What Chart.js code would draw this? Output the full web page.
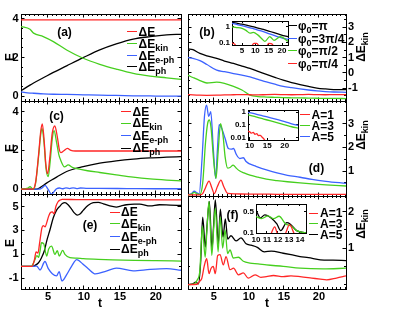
<!DOCTYPE html>
<html>
<head>
<meta charset="utf-8">
<title>Energy relaxation panels</title>
<script src="https://cdn.jsdelivr.net/npm/chart.js"></script>
<style>
  html, body { margin: 0; padding: 0; background: #fff; }
  #stage { position: relative; width: 415px; height: 312px; overflow: hidden;
           font-family: 'Liberation Sans', Arial, sans-serif; font-weight: bold; color: #000; }
  #stage canvas, #stage .lbl, #stage .sw { position: absolute; }
  .lbl { white-space: nowrap; line-height: 12px; font-size: 12px; }
  .lbl sub { font-size: 9px; line-height: 0; vertical-align: baseline; position: relative; top: 3px; }
  .sw { height: 0; border-top: 1.5px solid; }
</style>
</head>
<body>
<div id="stage"></div>
<script>
// ---- data ----
// (a)
const tA = [1.25, 2.5, 3, 4.35, 5.75, 7.6, 9.9, 12.2, 14.5, 16.85, 19.2, 21.5, 23.5];
const aDE  = [3.95, 3.95, 3.95, 3.95, 3.95, 3.95, 3.95, 3.95, 3.95, 3.95, 3.95, 3.95, 3.95];
const aKin = [3.6, 3.46, 3.26, 3.08, 2.82, 2.39, 1.96, 1.65, 1.4, 1.18, 1.04, 0.95, 0.87];
const aEph = [0.22, 0.16, 0.15, 0.12, 0.1, 0.09, 0.07, 0.05, 0.04, 0.02, 0.01, 0.0, 0.0];
const aPh  = [0.28, 0.57, 0.68, 0.95, 1.23, 1.57, 1.99, 2.39, 2.7, 2.95, 3.08, 3.17, 3.2];

// (b)
const tB = [1.3, 2, 3, 4, 5.4, 6.5, 7.8, 9, 10.15, 11.3, 12.5, 13.7, 14.9, 16.1, 17.3, 18.5, 19.7, 20.9, 22.1, 23.86];
const bPi   = [1.58, 1.52, 1.28, 1.12, 0.95, 0.78, 0.62, 0.45, 0.29, 0.1, -0.09, -0.29, -0.48, -0.63, -0.76, -0.88, -0.99, -1.05, -1.09, -1.1];
const b3Pi4 = [1.01, 0.95, 0.8, 0.55, 0.18, 0.08, -0.04, -0.15, -0.26, -0.42, -0.59, -0.74, -0.88, -0.97, -1.05, -1.12, -1.18, -1.22, -1.25, -1.27];
const bPi2  = [-0.15, -0.3, -0.5, -0.66, -0.6, -0.68, -0.88, -1.12, -1.45, -1.55, -1.58, -1.6, -1.62, -1.63, -1.64, -1.65, -1.66, -1.67, -1.67, -1.68];
const bPi4  = [-1.42, -1.44, -1.46, -1.47, -1.46, -1.44, -1.43, -1.42, -1.43, -1.44, -1.42, -1.41, -1.42, -1.43, -1.42, -1.41, -1.42, -1.43, -1.42, -1.42];
// (b) inset, log scale
const tBi   = [1.3, 3, 5, 7, 9, 11, 13, 15, 17, 19, 21, 22.25];
const biPi   = [2.0, 1.75, 1.5, 1.25, 1.05, 0.85, 0.7, 0.55, 0.43, 0.34, 0.27, 0.24];
const bi3Pi4 = [1.7, 1.45, 1.2, 0.98, 0.8, 0.63, 0.5, 0.38, 0.29, 0.22, 0.18, 0.16];
const tBiG  = [1.3, 3, 5, 6.5, 8, 9.2, 11, 12.5, 13.6, 15.4, 17, 19.4, 22.25];
const biPi2  = [1.0, 0.92, 0.8, 0.6, 0.4, 0.45, 0.3, 0.17, 0.12, 0.24, 0.14, 0.24, 0.12];
const tBiR  = [1.3, 2.2, 3.2, 8.2, 9.5, 10.5, 11.8, 14, 15, 16, 17.2];
const biPi4  = [0.095, 0.08, 0.05, 0.05, 0.09, 0.09, 0.05, 0.05, 0.088, 0.085, 0.05];

// (c)
const tCr = [1.25, 2.9, 3.3, 3.7, 4.0, 4.21, 4.45, 4.7, 4.95, 5.25, 5.6, 5.95, 6.3, 6.6, 6.8, 7.2, 7.7, 8.2, 8.8, 12, 16, 20, 23.5];
const cDE = [0, 0, 0.4, 1.8, 3.0, 3.37, 2.6, 1.3, 0.8, 1.6, 2.9, 3.26, 2.7, 2.0, 1.89, 1.98, 2.11, 2.0, 1.97, 1.97, 1.97, 1.97, 1.97];
const tCg = [1.25, 2.2, 2.5, 2.8, 3.0, 3.3, 3.7, 4.0, 4.17, 4.45, 4.75, 5.04, 5.3, 5.6, 5.85, 6.2, 6.5, 6.76, 7.3, 7.8, 8.4, 9.0, 10.5, 12.2, 14.5, 16.85, 19.2, 21.5, 23.5];
const cKin = [0, 0.05, 0.13, 0.03, 0, 0.35, 1.7, 2.85, 3.14, 2.4, 1.0, 0.65, 1.4, 2.6, 3.02, 2.4, 1.8, 1.5, 1.15, 1.25, 1.12, 1.06, 0.95, 0.86, 0.74, 0.62, 0.53, 0.47, 0.43];
const tCb = [1.25, 3.8, 4.3, 4.6, 5.0, 5.5, 5.9, 6.2, 6.6, 7.0, 7.5, 8.0, 8.5, 9.0, 9.5, 10.5, 12, 16, 20, 23.5];
const cEph = [0, 0, 0.1, 0.2, 0.0, -0.26, -0.1, 0.02, 0.06, 0.02, 0.07, 0.03, 0.07, 0.03, 0.06, 0.04, 0.04, 0.03, 0.02, 0.02];
const tCk = [1.25, 3.4, 3.9, 4.8, 5.5, 6.2, 7.6, 9.9, 12.2, 14.5, 16.85, 19.2, 21.5, 23.5];
const cPh = [0, 0, 0.08, 0.31, 0.47, 0.62, 0.91, 1.16, 1.34, 1.46, 1.55, 1.61, 1.65, 1.68];

// (d)
const tDb = [1.3, 1.8, 2.2, 2.6, 2.9, 3.3, 3.65, 3.95, 4.25, 4.55, 4.9, 5.25, 5.5, 5.75, 6.1, 6.6, 7.06, 7.5, 7.8, 8.2, 8.7, 9.2, 9.6, 10.1, 11, 12.5, 14, 15.5, 17.3, 19, 21, 23.86];
const dA5 = [0, 0.05, 0.15, 0.08, 0.05, 1.5, 3.3, 3.78, 3.3, 3.5, 2.0, 0.69, 1.9, 2.95, 2.8, 2.37, 1.95, 1.92, 1.95, 1.7, 1.53, 1.56, 1.4, 1.3, 1.2, 1.05, 0.92, 0.82, 0.74, 0.65, 0.57, 0.48];
const tDg = [1.3, 1.8, 2.2, 2.6, 3.0, 3.4, 3.8, 4.1, 4.34, 4.6, 4.95, 5.3, 5.6, 5.95, 6.3, 6.6, 6.97, 7.3, 7.75, 8.2, 8.7, 9.3, 10.15, 11.3, 12.5, 14, 15.5, 17.3, 19, 21, 23.86];
const dA3 = [0, 0.03, 0.1, 0.04, 0.02, 0.5, 2.2, 3.0, 3.15, 2.8, 1.5, 0.69, 1.8, 3.0, 2.5, 1.6, 1.12, 1.15, 1.25, 1.12, 1.0, 0.92, 0.83, 0.74, 0.66, 0.6, 0.55, 0.5, 0.46, 0.42, 0.37];
const tDr = [1.3, 3.0, 3.4, 3.8, 4.3, 4.7, 5.06, 5.5, 6.0, 6.4, 6.97, 8, 10, 12, 14, 17, 20, 23.86];
const dA1 = [0, 0, 0.05, 0.3, 0.58, 0.3, 0.05, 0.35, 0.62, 0.35, 0.06, 0.04, 0.03, 0.03, 0.02, 0.02, 0.02, 0.02];
// (d) inset, log scale
const tDi  = [9.5, 12, 14, 16, 18, 20, 22, 23.8];
const diA5 = [0.95, 0.66, 0.48, 0.35, 0.25, 0.18, 0.12, 0.09];
const diA3 = [0.6, 0.4, 0.28, 0.2, 0.14, 0.1, 0.07, 0.055];
const tDiR = [9.5, 10, 10.5, 11, 11.5, 12, 12.5, 13, 13.5, 14, 14.5];
const diA1 = [0.032, 0.028, 0.022, 0.025, 0.018, 0.02, 0.014, 0.015, 0.011, 0.008, 0.005];

// (e)
const tEr = [1.25, 2.8, 3.1, 3.35, 3.6, 3.85, 4.15, 4.35, 4.6, 4.85, 5.1, 5.35, 5.6, 5.85, 6.1, 6.4, 6.7, 7.0, 9, 14, 23.5];
const eDE = [0, 0, 0.5, 1.2, 1.1, 2.0, 3.2, 3.4, 3.3, 3.7, 4.2, 4.5, 4.55, 4.4, 5.0, 5.4, 5.55, 5.6, 5.58, 5.57, 5.56];
const tEg = [1.25, 2.7, 3.0, 3.2, 3.45, 3.7, 3.9, 4.1, 4.4, 4.82, 5.1, 5.5, 5.97, 6.3, 6.57, 7.04, 7.36, 8.05, 9, 9.9, 12, 14, 17, 20, 23.5];
const eKin = [0, 0, 0.3, 0.58, 0.9, 0.75, 1.3, 1.97, 1.9, 0.86, 1.45, 1.69, 1.0, 1.3, 0.86, 1.33, 1.0, 0.72, 0.68, 0.64, 0.58, 0.54, 0.5, 0.47, 0.44];
const tEb = [1.25, 2.9, 3.43, 3.9, 4.58, 5.05, 5.6, 6.2, 6.55, 6.95, 7.6, 8.3, 9.0, 9.9, 10.6, 11.6, 13.1, 14.5, 16.85, 19.2, 21.5, 23.5];
const eEph = [0, 0, 0.02, -0.31, 0.4, -0.2, -0.62, -0.8, -0.45, -1.23, -0.7, 0.02, 0.55, 0.16, -0.2, -0.64, -0.4, -0.15, -0.38, -0.26, -0.2, -0.33];
const tEk = [1.25, 2.9, 3.43, 3.8, 4.1, 4.5, 4.82, 5.3, 5.74, 6.2, 6.67, 7.0, 7.36, 7.8, 8.3, 8.7, 9.07, 9.5, 9.9, 10.6, 11.3, 12, 12.7, 13.6, 14.5, 15.2, 15.9, 17, 17.75, 19.2, 20.5, 22, 23.5];
const ePh = [0, 0, 0.16, 0.4, 0.72, 1.3, 2.11, 3.1, 4.06, 4.7, 5.04, 5.25, 5.32, 5.15, 4.77, 4.45, 4.29, 4.4, 4.68, 5.1, 5.32, 5.35, 5.23, 5.05, 4.96, 5.05, 5.15, 5.2, 5.2, 5.05, 5.15, 5.12, 5.1];

// (f)
const tFk = [1.3, 2.0, 2.4, 2.8, 3.1, 3.4, 3.77, 4.05, 4.34, 4.73, 4.95, 5.2, 5.63, 5.92, 6.3, 6.63, 6.97, 7.44, 8.16, 8.87, 9.6, 10.3, 11.2, 12.2, 13.2, 14.9, 16, 17.3, 18.5, 20.2, 22, 23.86];
const fA5 = [0, 0.02, 0.07, 0.02, 0.6, 1.85, 1.03, 1.7, 2.28, 0.98, 1.6, 2.32, 1.12, 2.07, 1.3, 1.8, 1.25, 1.34, 1.2, 1.28, 1.12, 1.08, 1.02, 0.9, 0.92, 0.86, 0.82, 0.77, 0.74, 0.68, 0.67, 0.66];
const tFg = [1.3, 2.2, 2.6, 3.0, 3.35, 3.75, 4.0, 4.3, 4.7, 4.95, 5.2, 5.6, 5.9, 6.25, 6.6, 6.95, 7.3, 7.77, 8.5, 9.2, 10.15, 11.3, 12.5, 14.9, 17.3, 20.6, 23.86];
const fA3 = [0, 0.02, 0.12, 0.4, 1.6, 0.75, 1.5, 2.28, 0.8, 1.5, 2.1, 0.9, 1.85, 1.0, 1.5, 0.85, 0.95, 0.73, 0.75, 0.64, 0.59, 0.57, 0.54, 0.5, 0.45, 0.43, 0.45];
const tFr = [1.3, 2.6, 3.0, 3.25, 3.63, 3.97, 4.3, 4.6, 4.9, 5.2, 5.54, 5.87, 6.35, 6.73, 7.3, 7.8, 8.5, 9.2, 9.9, 10.87, 11.7, 12.5, 13.5, 14.9, 16, 17.3, 18.97, 20.2, 21.1, 22.5, 23.86];
const fA1 = [0, 0.01, 0.1, 0.16, 0.52, 0.71, 0.3, 0.45, 0.5, 0.3, 0.8, 0.82, 0.54, 0.77, 0.41, 0.45, 0.27, 0.32, 0.18, 0.27, 0.2, 0.22, 0.25, 0.22, 0.24, 0.22, 0.18, 0.15, 0.13, 0.18, 0.24];
// (f) inset, log scale
const tFiK = [10, 10.4, 10.8, 11.4, 11.9, 12.25, 12.8, 13.1, 13.7, 14.55];
const fiA5 = [0.58, 0.32, 0.4, 0.31, 0.2, 0.12, 0.22, 0.2, 0.12, 0.1];
const tFiG = [10, 10.5, 11.1, 11.6, 12.1, 12.7, 13.2, 13.7, 14.55];
const fiA3 = [0.35, 0.3, 0.37, 0.3, 0.36, 0.2, 0.17, 0.12, 0.1];
const tFiR = [11.35, 11.7, 12.0, 12.6, 13.05, 13.5];
const fiA1 = [0.09, 0.16, 0.09, 0.09, 0.19, 0.09];

// ---- drawing ----
const RED = '#ff2626', GREEN = '#46cf1e', BLUE = '#3c62ff', BLACK = '#000';
const FONT = "'Liberation Sans', Arial, sans-serif";
const stage = document.getElementById('stage');

function pts(ts, vs) { return ts.map((t, i) => ({x: t, y: vs[i]})); }
function line(label, ts, vs, color) {
    return {label, data: pts(ts, vs), borderColor: color, borderWidth: 1.3, pointRadius: 0,
            cubicInterpolationMode: 'monotone', xAxisID: 'x', yAxisID: 'y'};
}
function steps(min, max, step) {
    const out = [];
    for (let k = Math.ceil(min / step - 1e-9); k * step <= max + 1e-9; k++) out.push(Math.round(k * step * 1000) / 1000);
    return out;
}

// one axis, ticks pointing inwards, fixed box size
function axis(o) {
    const vertical = o.pos === 'left' || o.pos === 'right';
    return {
        type: o.type || 'linear', position: o.pos, min: o.min, max: o.max, weight: o.weight || 0,
        afterBuildTicks: s => { s.ticks = o.vals.map(v => ({value: v})); },
        afterFit: s => {
            if (vertical) s.width = o.size; else s.height = o.size;
            s.paddingTop = s.paddingBottom = s.paddingLeft = s.paddingRight = 0;
        },
        border: {display: o.border !== false, color: '#000', width: 1},
        grid: {drawOnChartArea: false, drawTicks: true, tickLength: -o.len, tickWidth: 1, tickColor: '#000'},
        ticks: {display: !!o.labels, autoSkip: false, maxRotation: 0, minRotation: 0, padding: o.pad || 0,
                color: '#000', font: {family: FONT, size: o.fs || 11, weight: 'bold'},
                callback: v => String(v)}
    };
}

const whiteBox = {
    id: 'whiteBox',
    beforeDraw(c) {
        const a = c.chartArea;
        c.ctx.save();
        c.ctx.fillStyle = '#fff';
        c.ctx.fillRect(a.left, a.top, a.right - a.left, a.bottom - a.top);
        c.ctx.restore();
    }
};

function chartAt(x, y, w, h, scales, datasets, plugins) {
    const cv = document.createElement('canvas');
    cv.width = w; cv.height = h;
    cv.style.left = x + 'px'; cv.style.top = y + 'px';
    stage.appendChild(cv);
    return new Chart(cv, {
        type: 'line',
        data: {datasets},
        options: {
            responsive: false, animation: false, devicePixelRatio: 1,
            layout: {padding: 0, autoPadding: false},
            plugins: {legend: {display: false}, tooltip: {enabled: false}},
            scales
        },
        plugins: plugins || []
    });
}

// main panel: box = [left, top, right, bottom] of the plot area
function panel(box, xr, yr, yLab, yMinor, side, showX, datasets) {
    const L = side === 'left' ? 21 : 4, R = side === 'right' ? 26 : 4, T = 4, B = showX ? 24 : 4;
    const xMaj = [5, 10, 15, 20], xMin = steps(xr[0], xr[1], 0.625), yMin = steps(yr[0], yr[1], yMinor);
    const X = pos => ({pos, min: xr[0], max: xr[1]});
    const Y = pos => ({pos, min: yr[0], max: yr[1]});
    const scales = {
        x:   axis({...X('bottom'), vals: xMaj, len: 3.5, size: B, labels: showX, pad: 5, weight: 1}),
        xm:  axis({...X('bottom'), vals: xMin, len: 2, size: 0, border: false}),
        xt:  axis({...X('top'), vals: xMaj, len: 3.5, size: T, weight: 1}),
        xmt: axis({...X('top'), vals: xMin, len: 2, size: 0, border: false}),
        y:   axis({...Y('left'), vals: yLab, len: 3.5, size: L, labels: side === 'left', pad: 6, weight: 1}),
        ym:  axis({...Y('left'), vals: yMin, len: 2, size: 0, border: false}),
        yr:  axis({...Y('right'), vals: yLab, len: 3.5, size: R, labels: side === 'right', pad: 5.5, weight: 1}),
        ymr: axis({...Y('right'), vals: yMin, len: 2, size: 0, border: false})
    };
    return chartAt(box[0] - L, box[1] - T, box[2] - box[0] + L + R, box[3] - box[1] + T + B, scales, datasets);
}

// inset with log y axis
function inset(box, xr, yr, xLab, yLab, datasets, padX) {
    const L = 18, R = 2, T = 2, B = 13;
    const X = pos => ({pos, min: xr[0], max: xr[1]});
    const Y = pos => ({pos, min: yr[0], max: yr[1], type: 'logarithmic'});
    const scales = {
        x:  axis({...X('bottom'), vals: xLab, len: 2, size: B, labels: true, pad: padX, weight: 1, fs: 8}),
        xt: axis({...X('top'), vals: xLab, len: 2, size: T, weight: 1}),
        y:  axis({...Y('left'), vals: yLab, len: 2, size: L, labels: true, pad: 4, weight: 1, fs: 8}),
        yr: axis({...Y('right'), vals: yLab, len: 2, size: R, weight: 1})
    };
    return chartAt(box[0] - L, box[1] - T, box[2] - box[0] + L + R, box[3] - box[1] + T + B, scales, datasets, [whiteBox]);
}

function label(html, x, y, style) {
    const d = document.createElement('div');
    d.className = 'lbl';
    d.innerHTML = html;
    d.style.left = x + 'px';
    d.style.top = y + 'px';
    if (style) Object.assign(d.style, style);
    stage.appendChild(d);
    return d;
}
const centered = {transform: 'translate(-50%, -50%)'};
const rotated = {transform: 'translate(-50%, -50%) rotate(-90deg)'};

function legend(x1, x2, tx, ys, items) {
    items.forEach(([html, color], i) => {
        const sw = document.createElement('div');
        sw.className = 'sw';
        sw.style.left = x1 + 'px';
        sw.style.width = (x2 - x1) + 'px';
        sw.style.top = (ys[i] - 0.75) + 'px';
        sw.style.borderColor = color;
        stage.appendChild(sw);
        label(html, tx, ys[i] - 6);
    });
}

const XL = [1.25, 23.5], XR = [1.3, 23.86];

panel([21, 14, 181, 101], XL, [-0.25, 4.25], [0, 2, 4], 0.5, 'left', false, [
    line('ΔE', tA, aDE, RED), line('ΔE_kin', tA, aKin, GREEN),
    line('ΔE_e-ph', tA, aEph, BLUE), line('ΔE_ph', tA, aPh, BLACK)]);
panel([188, 14, 346, 101], XR, [-1.84, 3.86], [-1, 0, 1, 2, 3], 0.5, 'right', false, [
    line('φ0=π/4', tB, bPi4, RED), line('φ0=π/2', tB, bPi2, GREEN),
    line('φ0=3π/4', tB, b3Pi4, BLUE), line('φ0=π', tB, bPi, BLACK)]);
panel([21, 101, 181, 194], XL, [-0.25, 4.55], [0, 2, 4], 0.5, 'left', false, [
    line('ΔE', tCr, cDE, RED), line('ΔE_kin', tCg, cKin, GREEN),
    line('ΔE_e-ph', tCb, cEph, BLUE), line('ΔE_ph', tCk, cPh, BLACK)]);
panel([188, 101, 346, 196], XR, [-0.05, 3.95], [1, 2, 3], 0.5, 'right', false, [
    line('A=1', tDr, dA1, RED), line('A=3', tDg, dA3, GREEN), line('A=5', tDb, dA5, BLUE)]);
panel([21, 194, 181, 289], XL, [-1.9, 6.05], [-1, 1, 3, 5], 1, 'left', true, [
    line('ΔE', tEr, eDE, RED), line('ΔE_kin', tEg, eKin, GREEN),
    line('ΔE_e-ph', tEb, eEph, BLUE), line('ΔE_ph', tEk, ePh, BLACK)]);
panel([188, 196, 346, 289], XR, [-0.12, 2.43], [1, 2], 0.5, 'right', true, [
    line('A=1', tFr, fA1, RED), line('A=3', tFg, fA3, GREEN), line('A=5', tFk, fA5, BLACK)]);

inset([232, 21, 288, 45], [1.25, 22.25], [0.07, 2.41], [5, 10, 15, 20], [0.1, 1], [
    line('φ0=π/4', tBiR, biPi4, RED), line('φ0=π/2', tBiG, biPi2, GREEN),
    line('φ0=3π/4', tBi, bi3Pi4, BLUE), line('φ0=π', tBi, biPi, BLACK)], 3);
inset([248, 110, 298, 140], [9.5, 23.8], [0.0064, 1.44], [10, 15, 20], [0.01, 0.1, 1], [
    line('A=1', tDiR, diA1, RED), line('A=3', tDi, diA3, GREEN), line('A=5', tDi, diA5, BLUE)], 3);
inset([256, 204, 306, 233], [10, 14.55], [0.1, 0.92], [10, 11, 12, 13, 14], [0.1, 0.5], [
    line('A=1', tFiR, fiA1, RED), line('A=3', tFiG, fiA3, GREEN), line('A=5', tFiK, fiA5, BLACK)], 4);

// panel tags
label('(a)', 64.5, 32, centered);
label('(b)', 207, 32, centered);
label('(c)', 56.5, 115.7, centered);
label('(d)', 316.5, 168, centered);
label('(e)', 90, 225, centered);
label('(f)', 232.5, 215, centered);

// axis titles
label('E', 9.5, 57, rotated);
label('E', 9.5, 148, rotated);
label('E', 9.5, 243, rotated);
label('t', 100, 303, centered);
label('t', 267, 303, centered);
label('ΔE<sub>kin</sub>', 361, 47, rotated);
label('ΔE<sub>kin</sub>', 361, 135, rotated);
label('ΔE<sub>kin</sub>', 361, 224, rotated);

// legends
const energyNames = [['ΔE', RED], ['ΔE<sub>kin</sub>', GREEN], ['ΔE<sub>e-ph</sub>', BLUE], ['ΔE<sub>ph</sub>', BLACK]];
legend(127, 137, 138.5, [32, 43.5, 55.5, 67], energyNames);
legend(121, 131, 132.5, [111.7, 123.3, 136, 148.3], energyNames);
legend(110, 120, 121, [212.3, 224, 236.7, 249.3], energyNames);
legend(288, 297, 298, [26, 38.5, 51, 63.5], [
    ['φ<sub>0</sub>=π', BLACK], ['φ<sub>0</sub>=3π/4', BLUE], ['φ<sub>0</sub>=π/2', GREEN], ['φ<sub>0</sub>=π/4', RED]]);
legend(300, 310, 311.5, [115, 125.5, 136.5], [['A=1', RED], ['A=3', GREEN], ['A=5', BLUE]]);
legend(309, 318, 320, [213.3, 224, 235], [['A=1', RED], ['A=3', GREEN], ['A=5', BLACK]]);
</script>
</body>
</html>
